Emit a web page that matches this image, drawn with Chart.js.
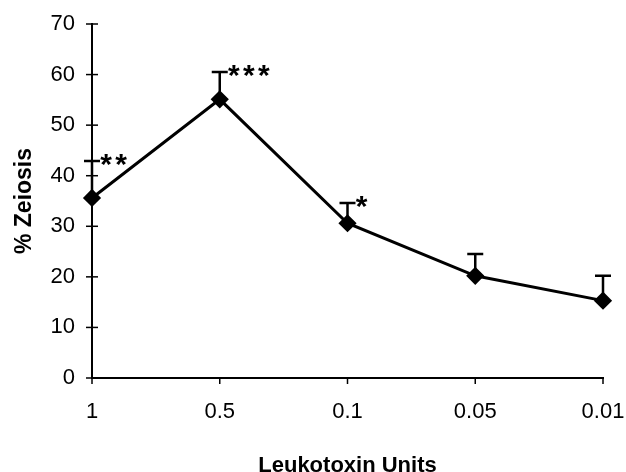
<!DOCTYPE html>
<html>
<head>
<meta charset="utf-8">
<script src="https://cdn.jsdelivr.net/npm/chart.js@4/dist/chart.umd.min.js"></script>
<style>
  html, body { margin: 0; padding: 0; background: #fff; }
  #wrap { width: 626px; height: 472px; }
</style>
</head>
<body>
<div id="wrap"><canvas id="grafico"></canvas></div>
<script>
// Datos
const unidades = ['1', '0.5', '0.1', '0.05', '0.01'];
const zeiosis = [35.6, 55.1, 30.6, 20.2, 15.3];
const errorSup = [7.3, 5.4, 4.0, 4.3, 4.9];
const asteriscos = ['**', '***', '*', '', ''];
const ticksY = [0, 10, 20, 30, 40, 50, 60, 70];

const fuente = 'Liberation Sans, Arial, sans-serif';

// Barras de error, asteriscos y marcas de los ejes
const extras = {
    id: 'extras',
    afterDatasetsDraw(chart) {
        const ctx = chart.ctx;
        const x = chart.scales.x;
        const y = chart.scales.y;
        ctx.save();
        ctx.strokeStyle = '#000';
        ctx.fillStyle = '#000';

        // marcas del eje y (cruzan el eje)
        ctx.lineWidth = 1.5;
        ticksY.forEach(v => {
            const py = y.getPixelForValue(v);
            ctx.beginPath();
            ctx.moveTo(x.left - 6, py);
            ctx.lineTo(x.left + 6, py);
            ctx.stroke();
        });
        // marcas del eje x (hacia abajo)
        unidades.forEach((u, i) => {
            const px = x.getPixelForValue(i);
            ctx.beginPath();
            ctx.moveTo(px, y.bottom);
            ctx.lineTo(px, y.bottom + 6);
            ctx.stroke();
        });

        // barras de error (solo hacia arriba)
        ctx.lineWidth = 2.5;
        zeiosis.forEach((v, i) => {
            const px = x.getPixelForValue(i);
            const p0 = y.getPixelForValue(v);
            const p1 = y.getPixelForValue(v + errorSup[i]);
            ctx.beginPath();
            ctx.moveTo(px, p0);
            ctx.lineTo(px, p1);
            ctx.moveTo(px - 8, p1);
            ctx.lineTo(px + 8, p1);
            ctx.stroke();

            // asteriscos de significación
            ctx.font = 'bold 30px ' + fuente;
            ctx.textAlign = 'center';
            ctx.textBaseline = 'alphabetic';
            asteriscos[i].split('').forEach((c, k) => {
                ctx.fillText(c, px + 14 + k * 15, p1 + 13);
            });
        });
        ctx.restore();
    }
};

new Chart(document.getElementById('grafico'), {
    type: 'line',
    data: {
        labels: unidades,
        datasets: [{
            data: zeiosis,
            borderColor: '#000',
            backgroundColor: '#000',
            borderWidth: 3,
            pointStyle: 'rectRot',
            pointRadius: 7,
            pointHoverRadius: 7,
            tension: 0
        }]
    },
    options: {
        responsive: true,
        maintainAspectRatio: false,
        animation: false,
        layout: { padding: { top: 24, right: 23, left: 0, bottom: 0 } },
        plugins: {
            legend: { display: false },
            tooltip: { enabled: false }
        },
        scales: {
            x: {
                offset: false,
                grid: { display: false, drawTicks: false },
                border: { color: '#000', width: 2 },
                ticks: { color: '#000', padding: 21, font: { family: fuente, size: 22 } },
                title: {
                    display: true,
                    text: 'Leukotoxin Units',
                    color: '#000',
                    font: { family: fuente, size: 22, weight: 'bold', lineHeight: 1 },
                    padding: { top: 0, bottom: -5 }
                },
                afterFit(s) {
                    s.height = 94;
                    s.paddingLeft = 0;
                    s.paddingRight = 0;
                }
            },
            y: {
                min: 0,
                max: 70,
                afterBuildTicks(s) { s.ticks = ticksY.map(v => ({ value: v })); },
                grid: { display: false, drawTicks: false },
                border: { color: '#000', width: 2 },
                ticks: { color: '#000', padding: 17, font: { family: fuente, size: 22 } },
                title: {
                    display: true,
                    text: '% Zeiosis',
                    color: '#000',
                    font: { family: fuente, size: 23, weight: 'bold', lineHeight: 1 },
                    padding: { top: 13, bottom: 0 }
                },
                afterFit(s) {
                    s.width = 92;
                    s.paddingTop = 0;
                    s.paddingBottom = 0;
                }
            }
        }
    },
    plugins: [extras]
});
</script>
</body>
</html>
